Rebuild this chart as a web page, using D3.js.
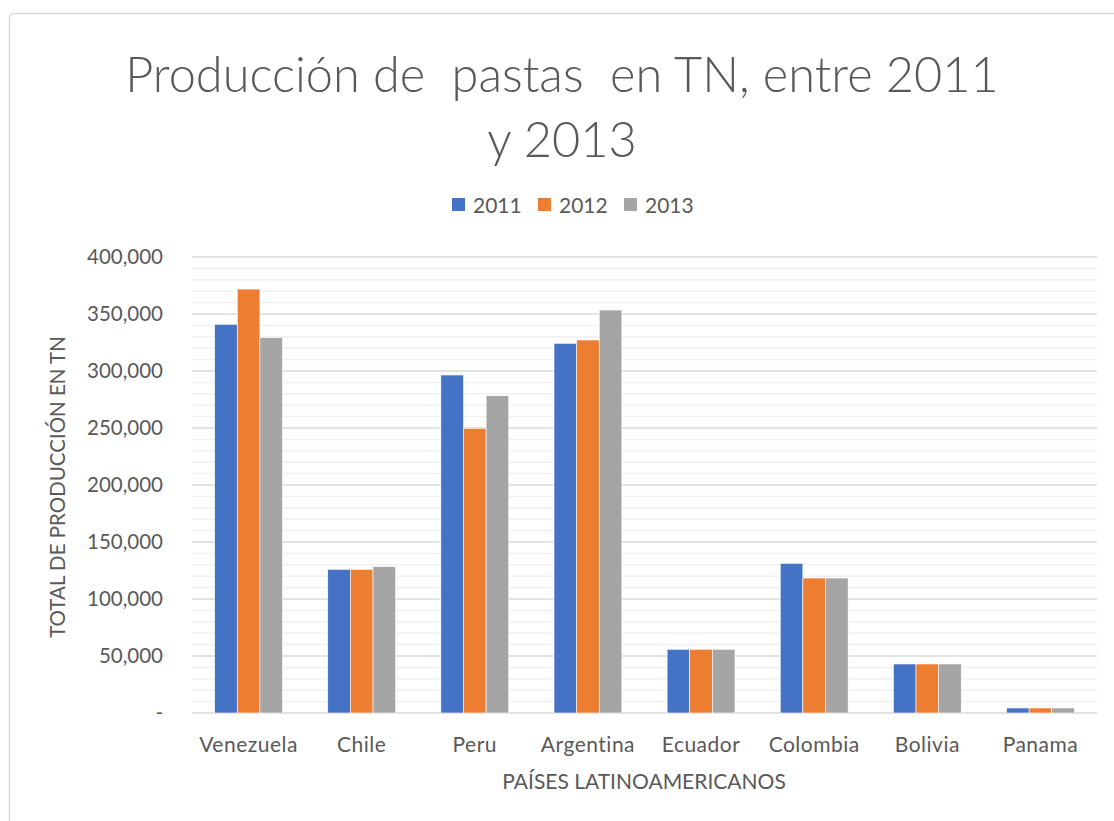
<!DOCTYPE html>
<html lang="es">
<head>
<meta charset="utf-8">
<title>Producción de pastas</title>
<script src="https://cdnjs.cloudflare.com/ajax/libs/d3/7.8.5/d3.min.js"></script>
<style>
	body { margin: 0; background: #fff; }
	text { font-family: Lato, "Open Sans", sans-serif; fill: #595959; }
</style>
</head>
<body>
<div id="chart"></div>
<script>
// datos
var paises = ["Venezuela", "Chile", "Peru", "Argentina", "Ecuador", "Colombia", "Bolivia", "Panama"];
var anios = ["2011", "2012", "2013"];
var prod2011 = [341000, 126000, 296500, 324300, 55900, 131300, 43000, 4400];
var prod2012 = [371900, 126000, 249700, 327200, 55900, 118400, 43000, 4400];
var prod2013 = [329200, 128400, 278300, 353500, 55900, 118400, 43000, 4400];
var yTicks = [0, 50000, 100000, 150000, 200000, 250000, 300000, 350000, 400000];
var colores = ["#4472C4", "#ED7D31", "#A5A5A5"];

var series = [prod2011, prod2012, prod2013];

var width = 1114, height = 821;
var margin = {left: 192, right: 17, top: 257, bottom: 108};

var svg = d3.select("#chart").append("svg")
	.attr("width", width)
	.attr("height", height);

// borde del area del grafico
svg.append("rect")
	.attr("x", 9.5).attr("y", 13.5)
	.attr("width", 1140).attr("height", 840)
	.attr("rx", 4)
	.attr("fill", "none")
	.attr("stroke", "#d9d9d9")
	.attr("stroke-width", 1.5);

var x = d3.scaleBand()
	.domain(paises)
	.range([margin.left, width - margin.right])
	.paddingInner(0.4)
	.paddingOuter(0.2);

var y = d3.scaleLinear()
	.domain([0, 400000])
	.range([height - margin.bottom, margin.top]);

var xSub = d3.scaleBand()
	.domain(anios)
	.range([0, x.bandwidth()]);

// lineas de division secundarias
svg.append("g")
	.selectAll("line")
	.data(d3.range(0, 400001, 10000).filter(function(d){ return d % 50000 != 0; }))
	.enter().append("line")
	.attr("x1", margin.left).attr("x2", width - margin.right)
	.attr("y1", function(d){ return y(d); })
	.attr("y2", function(d){ return y(d); })
	.attr("stroke", "#f0f0f0")
	.attr("stroke-width", 1.5);

// lineas de division principales
svg.append("g")
	.selectAll("line")
	.data(yTicks)
	.enter().append("line")
	.attr("x1", margin.left).attr("x2", width - margin.right)
	.attr("y1", function(d){ return y(d); })
	.attr("y2", function(d){ return y(d); })
	.attr("stroke", "#d9d9d9")
	.attr("stroke-width", 1.5);

// barras
var grupos = svg.append("g")
	.selectAll("g")
	.data(series)
	.enter().append("g")
	.attr("fill", function(d, i){ return colores[i]; });

grupos.selectAll("rect")
	.data(function(d, i){ return d.map(function(v, j){ return {pais: paises[j], anio: anios[i], valor: v}; }); })
	.enter().append("rect")
	.attr("x", function(d){ return x(d.pais) + xSub(d.anio); })
	.attr("y", function(d){ return y(d.valor); })
	.attr("width", xSub.bandwidth())
	.attr("height", function(d){ return y(0) - y(d.valor); })
	.attr("stroke", "#ffffff")
	.attr("stroke-width", 0.6);

// eje y
var yAxis = svg.append("g")
	.attr("transform", "translate(" + (margin.left - 29) + ",0)")
	.call(d3.axisLeft(y).tickValues(yTicks).tickSize(0).tickPadding(0)
		.tickFormat(function(d){ return d == 0 ? "-" : d3.format(",")(d); }));
yAxis.select(".domain").remove();
yAxis.selectAll("text")
	.attr("font-size", 20.5)
	.attr("font-family", null)
	.attr("fill", "#595959");

// eje x
var xAxis = svg.append("g")
	.attr("transform", "translate(0," + (height - margin.bottom) + ")")
	.call(d3.axisBottom(x).tickSize(0).tickPadding(24));
xAxis.select(".domain").remove();
xAxis.selectAll("text")
	.attr("font-size", 21)
	.attr("font-family", null)
	.attr("letter-spacing", 0.5)
	.attr("fill", "#595959");

// titulos
var titulo = svg.append("text")
	.attr("text-anchor", "middle")
	.attr("font-size", 48.7)
	.attr("font-weight", 300)
	.style("white-space", "pre");
titulo.append("tspan").attr("x", 562).attr("y", 92).text("Producción de  pastas  en TN, entre 2011");
titulo.append("tspan").attr("x", 562).attr("y", 157).text("y 2013");

svg.append("text")
	.attr("transform", "translate(65,487) rotate(-90)")
	.attr("text-anchor", "middle")
	.attr("font-size", 20.5)
	.text("TOTAL DE PRODUCCIÓN EN TN");

svg.append("text")
	.attr("x", 644).attr("y", 789)
	.attr("text-anchor", "middle")
	.attr("font-size", 21)
	.text("PAÍSES LATINOAMERICANOS");

// leyenda
var leyendaX = [452, 538, 624];
var leyenda = svg.append("g")
	.selectAll("g")
	.data(anios)
	.enter().append("g")
	.attr("transform", function(d, i){ return "translate(" + leyendaX[i] + ",198)"; });
leyenda.append("rect")
	.attr("width", 13).attr("height", 13)
	.attr("fill", function(d, i){ return colores[i]; });
leyenda.append("text")
	.attr("x", 21).attr("y", 15)
	.attr("font-size", 21)
	.text(function(d){ return d; });
</script>
</body>
</html>
